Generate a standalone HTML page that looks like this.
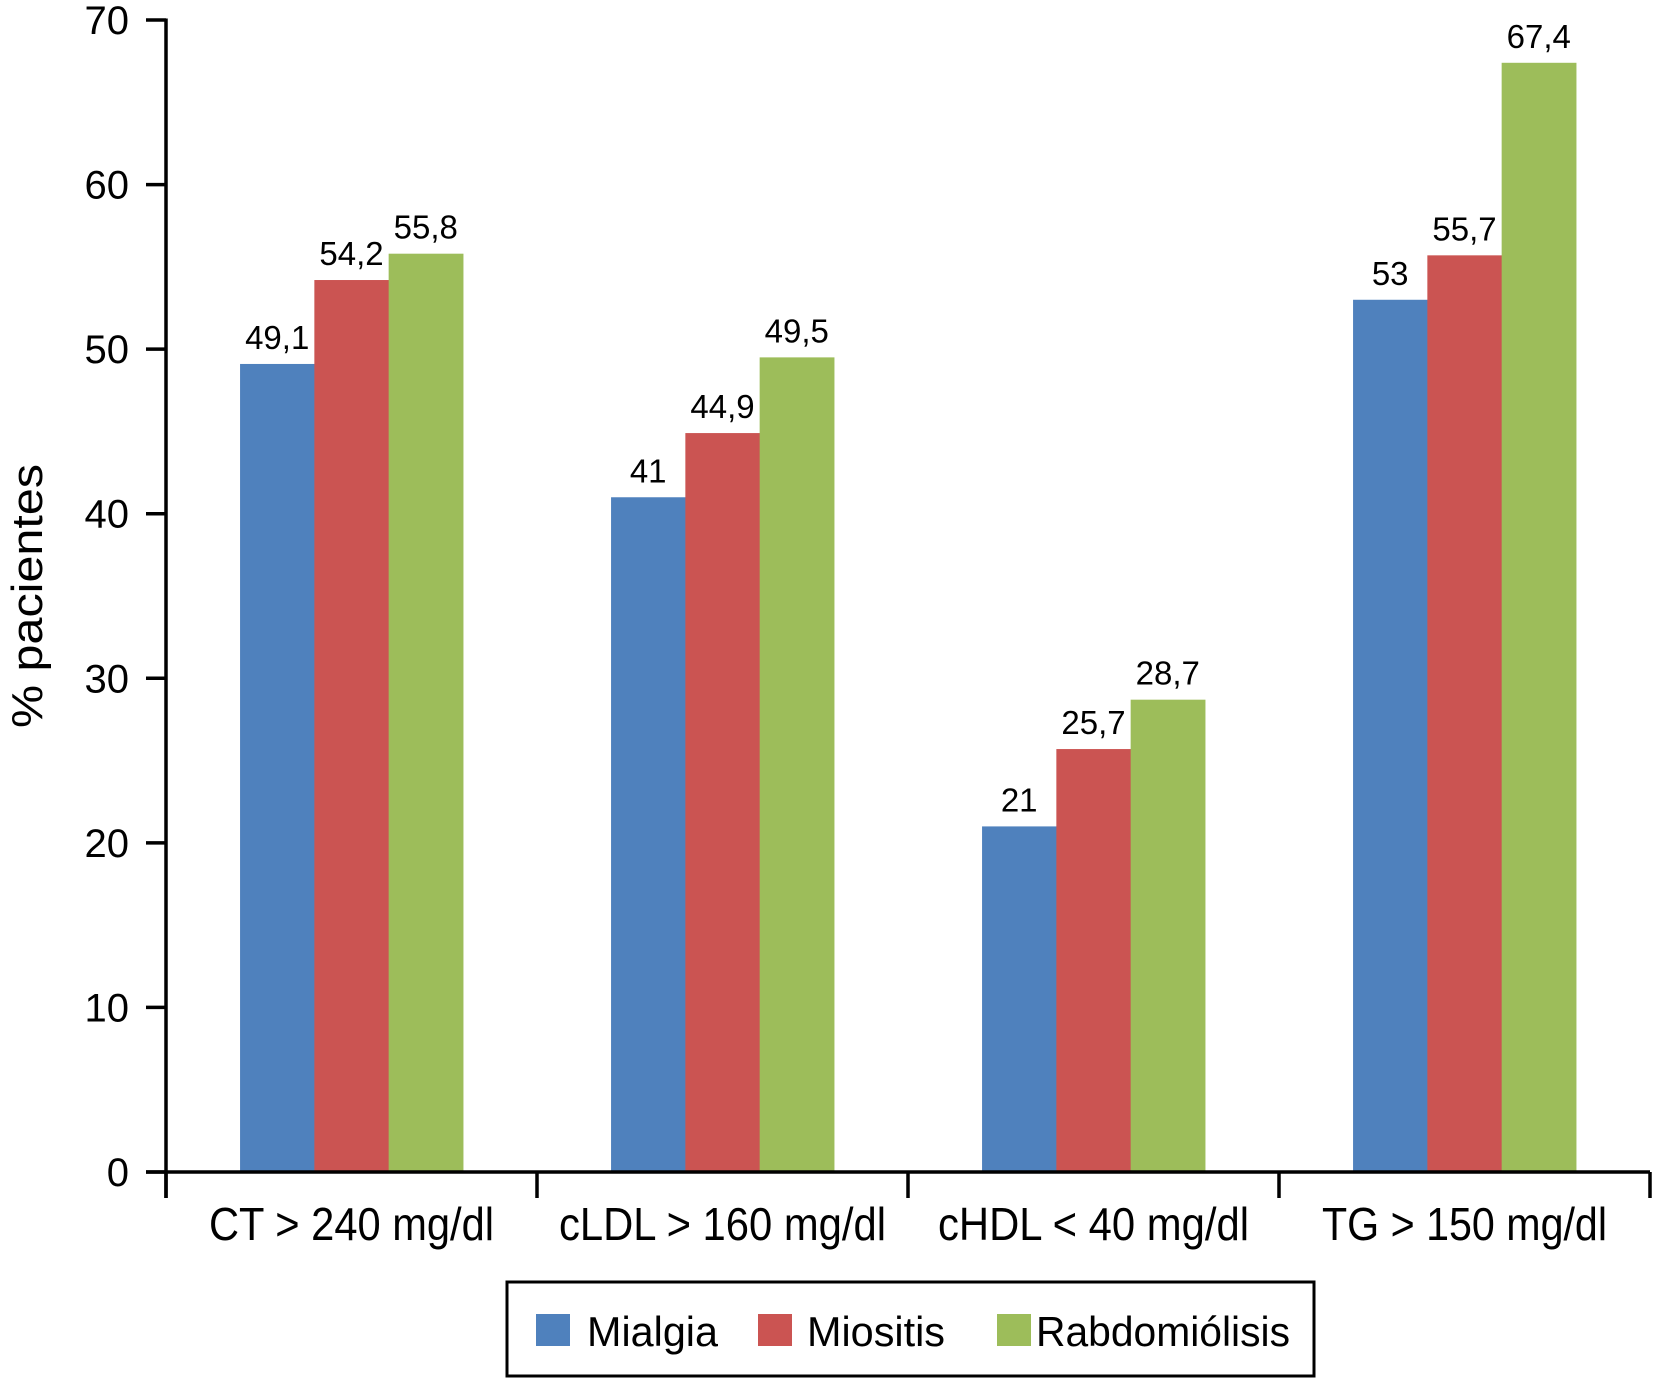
<!DOCTYPE html>
<html><head><meta charset="utf-8"><style>
html,body{margin:0;padding:0;background:#fff;}
svg{display:block;font-family:"Liberation Sans",Arial,sans-serif;}
</style></head><body>
<svg id="chart" width="1655" height="1379" viewBox="0 0 1655 1379" xmlns="http://www.w3.org/2000/svg">
<g id="bars"></g>
<g id="labels"></g>
<g id="axes"></g>
<text transform="translate(42,596) rotate(-90)" text-anchor="middle" font-size="44" textLength="264" lengthAdjust="spacingAndGlyphs">% pacientes</text>
<g>
<rect x="507" y="1282" width="807" height="94" fill="none" stroke="#000" stroke-width="3"/>
<rect x="536" y="1314" width="34" height="32" fill="#4f81bd"/>
<text x="587" y="1346" font-size="42" textLength="131" lengthAdjust="spacingAndGlyphs">Mialgia</text>
<rect x="758" y="1314" width="34" height="32" fill="#cb5452"/>
<text x="807" y="1346" font-size="42" textLength="138" lengthAdjust="spacingAndGlyphs">Miositis</text>
<rect x="997" y="1314" width="34" height="32" fill="#9dbd5a"/>
<text x="1036" y="1346" font-size="42" textLength="254" lengthAdjust="spacingAndGlyphs">Rabdomiólisis</text>
</g>
</svg>
<script>
const categories = ["CT > 240 mg/dl", "cLDL > 160 mg/dl", "cHDL < 40 mg/dl", "TG > 150 mg/dl"];
const mialgia = [49.1, 41, 21, 53];
const miositis = [54.2, 44.9, 25.7, 55.7];
const rabdomiolisis = [55.8, 49.5, 28.7, 67.4];
const valueText = [["49,1","41","21","53"],["54,2","44,9","25,7","55,7"],["55,8","49,5","28,7","67,4"]];
const yTicks = [0, 10, 20, 30, 40, 50, 60, 70];

const NS = "http://www.w3.org/2000/svg";
const x0 = 166, x1 = 1650, yBase = 1172, yTop = 20, yMax = 70;
const catW = (x1 - x0) / categories.length;
const barW = 74.3;
const colors = ["#4f81bd", "#cb5452", "#9dbd5a"];
const seriesNames = ["mialgia", "miositis", "rabdomiolisis"];
const series = [mialgia, miositis, rabdomiolisis];
const catTextLen = [285, 327, 311, 285];
function y(v){ return yBase - v / yMax * (yBase - yTop); }
function catCenter(i){ return x0 + catW * (i + 0.5); }
function mk(tag, attrs, parent){ const e = document.createElementNS(NS, tag); for (const k in attrs) e.setAttribute(k, attrs[k]); parent.appendChild(e); return e; }

const gb = document.getElementById("bars"), gl = document.getElementById("labels"), ga = document.getElementById("axes");
series.forEach((s, si) => {
  s.forEach((v, ci) => {
    const bx = catCenter(ci) - 1.5 * barW + si * barW;
    const r = mk("rect", {x: bx, y: y(v), width: barW + 0.5, height: yBase - y(v), fill: colors[si]}, gb);
    
    
    const t = mk("text", {x: bx + barW / 2, y: y(v) - 15, "text-anchor": "middle", "font-size": "33"}, gl);
    t.textContent = valueText[si][ci];
    
    
  });
});
const ya = mk("line", {x1: x0, y1: yTop - 1.5, x2: x0, y2: 1198, stroke: "#000", "stroke-width": 3.5}, ga);


const xa = mk("line", {x1: x0 - 20, y1: yBase, x2: x1, y2: yBase, stroke: "#000", "stroke-width": 3.5}, ga);


yTicks.forEach(v => {
  const l = mk("line", {x1: x0 - 20, y1: y(v), x2: x0, y2: y(v), stroke: "#000", "stroke-width": 3.5}, ga);
  
  
  const t = mk("text", {x: 129, y: y(v) + 14, "text-anchor": "end", "font-size": "40"}, ga);
  t.textContent = v;
  
  
});
for (let i = 0; i <= categories.length; i++) {
  const tx = x0 + catW * i;
  const l = mk("line", {x1: tx, y1: yBase, x2: tx, y2: 1198, stroke: "#000", "stroke-width": 3.5}, ga);
  
  
}
categories.forEach((c, i) => {
  const t = mk("text", {x: catCenter(i) - catTextLen[i] / 2, y: 1240, "font-size": "46", textLength: catTextLen[i], lengthAdjust: "spacingAndGlyphs"}, ga);
  t.textContent = c;
  
  
});
</script>
</body></html>
